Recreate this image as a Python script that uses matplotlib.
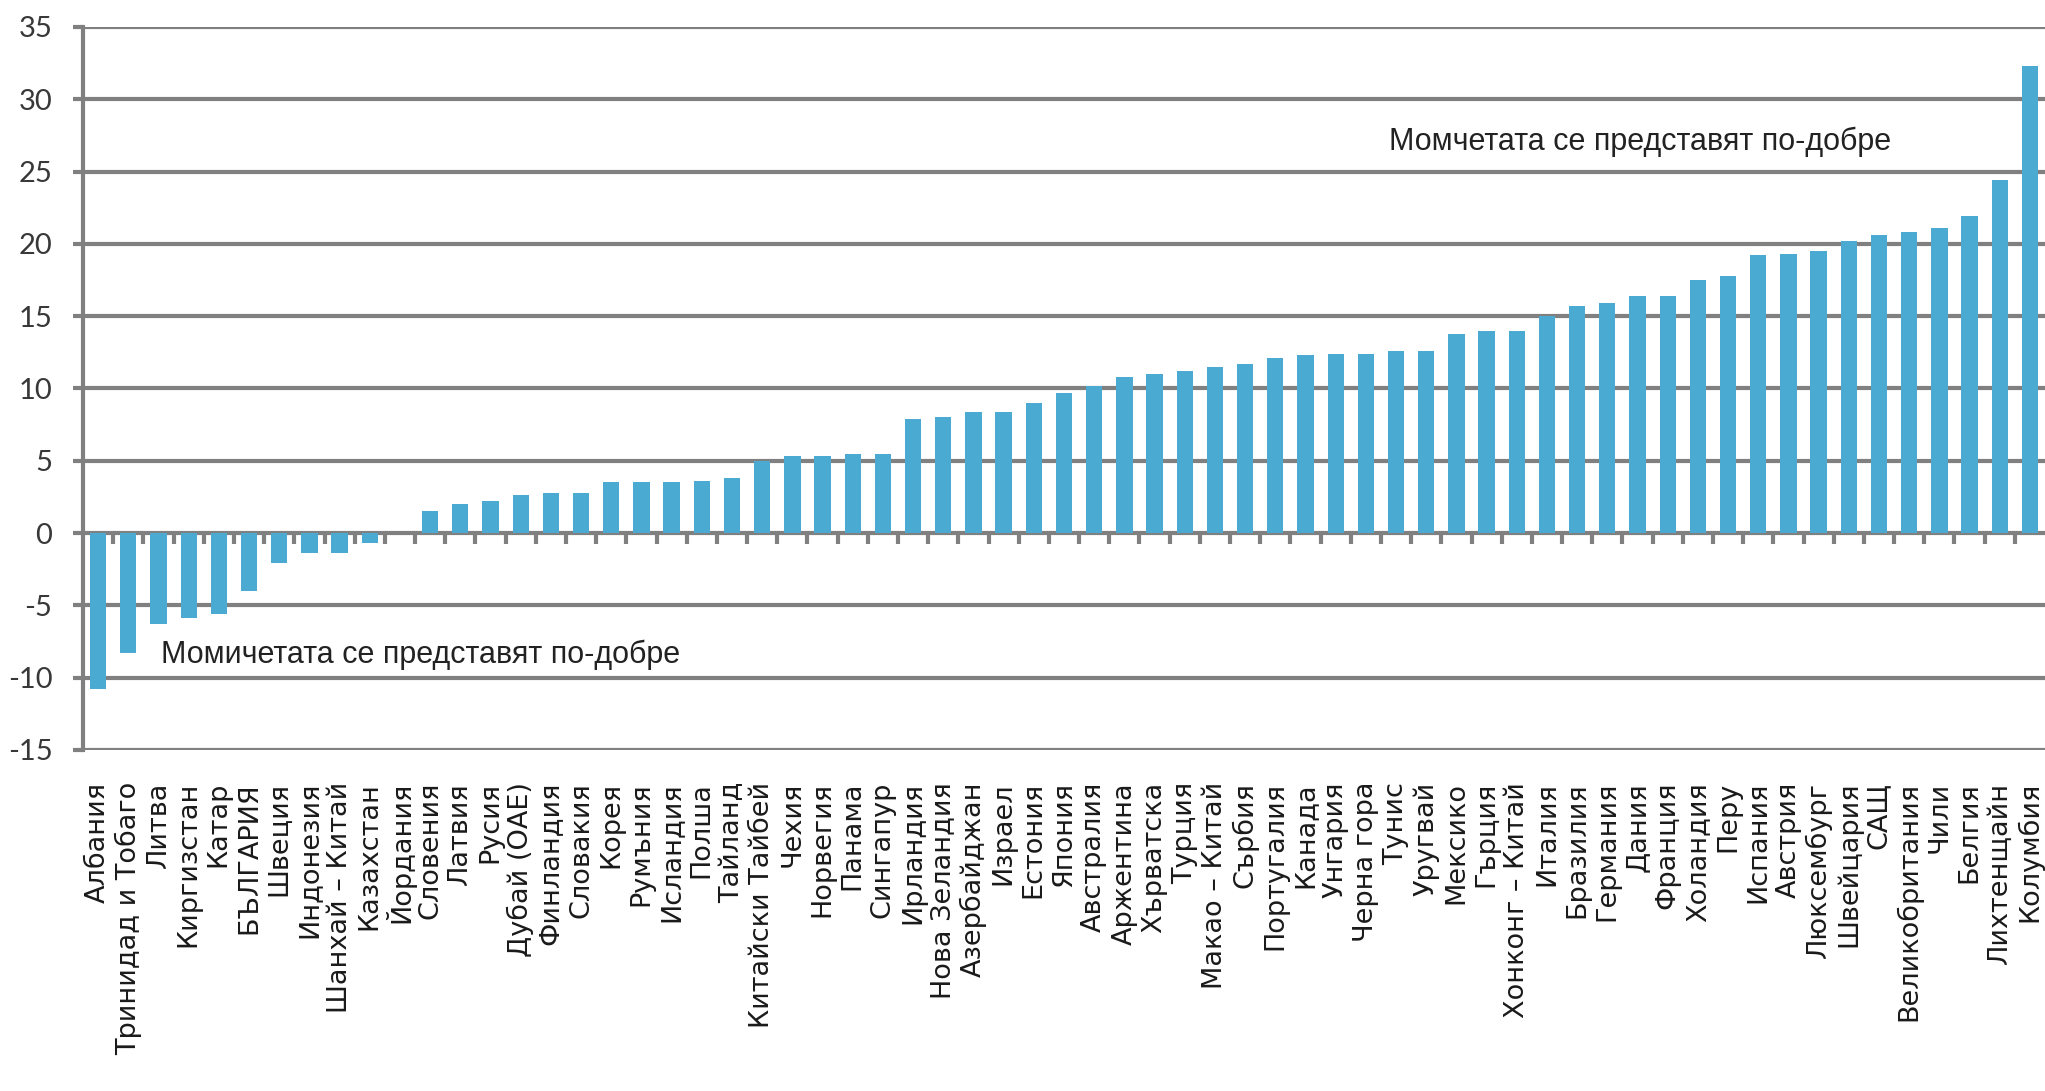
import numpy as np
import matplotlib
matplotlib.use("Agg")
import matplotlib.pyplot as plt

countries = [
    "Албания", "Тринидад и Тобаго", "Литва", "Киргизстан", "Катар", "БЪЛГАРИЯ",
    "Швеция", "Индонезия", "Шанхай – Китай", "Казахстан", "Йордания", "Словения",
    "Латвия", "Русия", "Дубай (ОАЕ)", "Финландия", "Словакия", "Корея", "Румъния",
    "Исландия", "Полша", "Тайланд", "Китайски Тайбей", "Чехия", "Норвегия",
    "Панама", "Сингапур", "Ирландия", "Нова Зеландия", "Азербайджан", "Израел",
    "Естония", "Япония", "Австралия", "Аржентина", "Хърватска", "Турция",
    "Макао – Китай", "Сърбия", "Португалия", "Канада", "Унгария", "Черна гора",
    "Тунис", "Уругвай", "Мексико", "Гърция", "Хонконг – Китай", "Италия",
    "Бразилия", "Германия", "Дания", "Франция", "Холандия", "Перу", "Испания",
    "Австрия", "Люксембург", "Швейцария", "САЩ", "Великобритания", "Чили",
    "Белгия", "Лихтенщайн", "Колумбия",
]
diff = [
    -10.8, -8.3, -6.3, -5.9, -5.6, -4.0,
    -2.1, -1.4, -1.4, -0.7, 0.0, 1.5,
    2.0, 2.2, 2.6, 2.8, 2.8, 3.5, 3.5,
    3.5, 3.6, 3.8, 5.0, 5.3, 5.3,
    5.5, 5.5, 7.9, 8.0, 8.4, 8.4,
    9.0, 9.7, 10.2, 10.8, 11.0, 11.2,
    11.5, 11.7, 12.1, 12.3, 12.4, 12.4,
    12.6, 12.6, 13.8, 14.0, 14.0, 15.0,
    15.7, 15.9, 16.4, 16.4, 17.5, 17.8, 19.2,
    19.3, 19.5, 20.2, 20.6, 20.8, 21.1,
    21.9, 24.4, 32.3,
]
y_ticks = [-15, -10, -5, 0, 5, 10, 15, 20, 25, 30, 35]

grid_col = "#808080"
bar_col = "#4aaad2"

fig = plt.figure(figsize=(20.45, 10.91), dpi=100)
ax = fig.add_axes([0.0406, 0.3126, 0.9594, 0.6627])

x = np.arange(len(countries))
ax.bar(x, diff, width=0.54, color=bar_col, zorder=3)

ax.set_xlim(-0.5, len(countries) - 0.5)
ax.set_ylim(-15, 35)
ax.set_yticks(y_ticks)
ax.set_yticklabels([str(v) for v in y_ticks], fontsize=21, family="Lato", color="#383838")
ax.yaxis.grid(True, color=grid_col, lw=3, zorder=1)
ax.tick_params(axis="y", direction="out", length=7, width=3, color=grid_col, pad=15)

ax.set_xticks(x)
ax.set_xticklabels(countries, rotation=90, fontsize=19.5, family="DejaVu Sans", color="#1a1a1a")
ax.tick_params(axis="x", length=0, pad=23)

# category boundary ticks on the zero line
ax.vlines(x[:-1] + 0.5, 0, -0.75, color=grid_col, lw=3, zorder=2)

for s in ["top", "right", "bottom"]:
    ax.spines[s].set_visible(False)
ax.spines["left"].set_color(grid_col)
ax.spines["left"].set_linewidth(3)

ax.text(42.76, 27.05, "Момчетата се представят по-добре", fontsize=22,
        family="Liberation Sans", color="#222222", va="center", ha="left", zorder=4)
ax.text(2.08, -8.45, "Момичетата се представят по-добре", fontsize=22,
        family="Liberation Sans", color="#222222", va="center", ha="left", zorder=4)

fig.savefig("out.png", dpi=100)
